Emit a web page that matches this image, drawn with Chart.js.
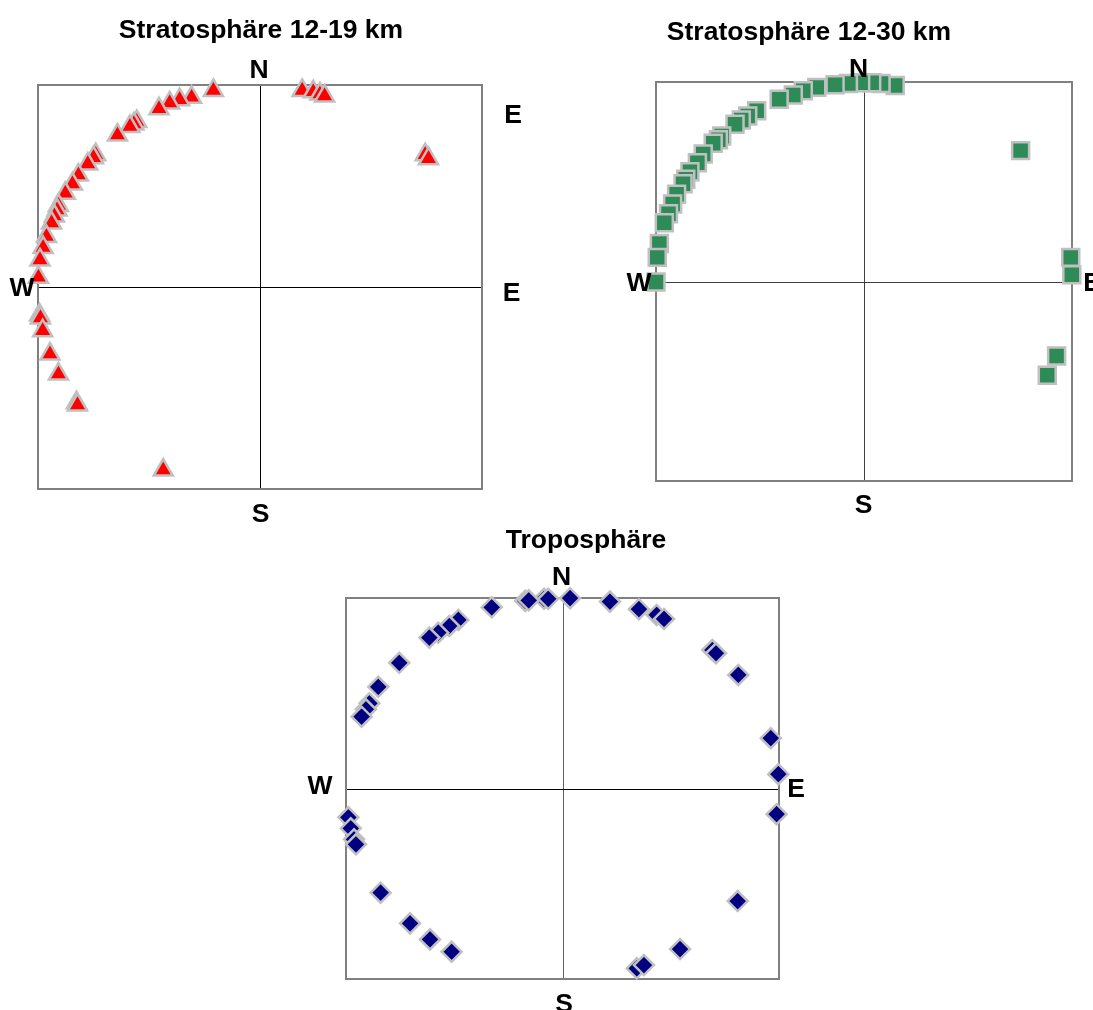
<!DOCTYPE html>
<html>
<head>
<meta charset="utf-8">
<script src="https://cdn.jsdelivr.net/npm/chart.js@4.4.1/dist/chart.umd.min.js"></script>
<style>
  html, body { margin: 0; padding: 0; background: #ffffff; }
  #wrap { position: relative; width: 1093px; height: 1010px; overflow: hidden; }
  #wrap canvas { position: absolute; left: 0; top: 0; }
</style>
</head>
<body>
<div id="wrap">
  <canvas id="c1" width="1093" height="1010"></canvas>
  <canvas id="c2" width="1093" height="1010"></canvas>
  <canvas id="c3" width="1093" height="1010"></canvas>
</div>
<script>
// Wind directions as unit vectors: x = east component, y = north component.

// Stratosphäre 12-19 km
const strat19X = [-0.210, -0.308, -0.362, -0.407, -0.455, -0.555, -0.568, -0.586, -0.642, -0.740,
                  -0.750, -0.776, -0.818, -0.845, -0.877, -0.908, -0.914, -0.926, -0.939, -0.962,
                  -0.977, -0.991, -0.998, -0.993, -0.989, -0.979, -0.946, -0.908, -0.827, -0.822,
                  -0.436, 0.190, 0.240, 0.270, 0.291, 0.744, 0.759];
const strat19Y = [0.973, 0.939, 0.927, 0.911, 0.882, 0.819, 0.807, 0.794, 0.752, 0.655,
                  0.640, 0.609, 0.554, 0.510, 0.464, 0.404, 0.381, 0.351, 0.317, 0.250,
                  0.195, 0.134, 0.048, -0.139, -0.153, -0.216, -0.332, -0.431, -0.573, -0.584,
                  -0.906, 0.973, 0.966, 0.955, 0.946, 0.655, 0.635];

// Stratosphäre 12-30 km
const strat30X = [0.150, 0.082, 0.037, -0.016, -0.075, -0.139, -0.227, -0.292, -0.340, -0.408,
                  -0.516, -0.559, -0.590, -0.620, -0.684, -0.700, -0.725, -0.773, -0.801, -0.837,
                  -0.857, -0.870, -0.901, -0.920, -0.940, -0.960, -0.984, -0.994, -1.000,
                  0.753, 0.994, 0.999, 0.926, 0.881];
const strat30Y = [0.983, 0.993, 0.996, 0.996, 0.993, 0.986, 0.973, 0.956, 0.935, 0.913,
                  0.856, 0.830, 0.810, 0.788, 0.729, 0.710, 0.693, 0.639, 0.595, 0.550,
                  0.512, 0.490, 0.437, 0.388, 0.340, 0.295, 0.191, 0.121, -0.003,
                  0.656, 0.121, 0.034, -0.373, -0.470];

// Troposphäre
const tropoX = [0.035, -0.085, -0.066, -0.172, -0.156, -0.327, -0.481, -0.523, -0.574, -0.615,
                -0.754, -0.851, -0.892, -0.908, -0.928, 0.219, 0.353, 0.435, 0.469, 0.692,
                0.709, 0.812, 0.962, 0.997, 0.989, -0.989, -0.978, -0.963, -0.954, -0.840,
                -0.704, -0.612, -0.512, 0.343, 0.376, 0.543, 0.809];
const tropoY = [0.999, 0.996, 0.996, 0.985, 0.988, 0.951, 0.885, 0.853, 0.818, 0.792,
                0.660, 0.534, 0.447, 0.416, 0.377, 0.981, 0.941, 0.911, 0.890, 0.727,
                0.710, 0.596, 0.264, 0.075, -0.135, -0.151, -0.209, -0.267, -0.293, -0.547,
                -0.708, -0.792, -0.857, -0.944, -0.927, -0.843, -0.591];

const titles = ['Stratosphäre 12-19 km', 'Stratosphäre 12-30 km', 'Troposphäre'];
const compassPoints = ['N', 'E', 'S', 'W'];

const FONT = 'bold 26.5px "Liberation Sans", Arial, sans-serif';
const CAP_HALF = 9.5;

// Frame, cross lines and text for one compass panel
const compassFrame = {
  id: 'compassFrame',
  beforeDatasetsDraw(chart, args, opts) {
    const { ctx, chartArea: a, scales: { x, y } } = chart;
    const x0 = Math.round(x.getPixelForValue(0)) + 0.5;
    const y0 = Math.round(y.getPixelForValue(0)) + 0.5;
    ctx.save();
    ctx.lineWidth = 1;
    ctx.strokeStyle = opts.vColor;
    ctx.beginPath(); ctx.moveTo(x0, a.top); ctx.lineTo(x0, a.bottom); ctx.stroke();
    ctx.strokeStyle = opts.hColor;
    ctx.beginPath(); ctx.moveTo(a.left, y0); ctx.lineTo(a.right, y0); ctx.stroke();
    ctx.lineWidth = 2;
    ctx.strokeStyle = '#808080';
    ctx.strokeRect(a.left, a.top, a.right - a.left, a.bottom - a.top);
    ctx.restore();
  },
  afterDraw(chart, args, opts) {
    const ctx = chart.ctx;
    ctx.save();
    ctx.font = FONT;
    ctx.fillStyle = '#000000';
    ctx.textAlign = 'center';
    ctx.textBaseline = 'alphabetic';
    (opts.labels || []).forEach(l => ctx.fillText(l.text, l.x, l.y + CAP_HALF));
    ctx.restore();
  }
};

function toPoints(xs, ys) {
  return xs.map((v, i) => ({ x: v, y: ys[i] }));
}

function compassChart(id, pts, marker, area, frame) {
  return new Chart(document.getElementById(id), {
    type: 'scatter',
    data: {
      datasets: [{
        data: pts,
        pointStyle: marker.style,
        pointRadius: marker.radius,
        pointHoverRadius: marker.radius,
        pointBackgroundColor: marker.color,
        pointBorderColor: '#C0C0C0',
        pointBorderWidth: marker.border,
        clip: false
      }]
    },
    options: {
      responsive: false,
      animation: false,
      events: [],
      layout: {
        padding: { left: area.left, top: area.top, right: 1093 - area.right, bottom: 1010 - area.bottom }
      },
      scales: {
        x: { type: 'linear', min: -1, max: 1, display: false },
        y: { type: 'linear', min: -1, max: 1, display: false }
      },
      plugins: {
        legend: { display: false },
        tooltip: { enabled: false },
        compassFrame: frame
      }
    },
    plugins: [compassFrame]
  });
}

const [N, E, S, W] = compassPoints;

compassChart('c1', toPoints(strat19X, strat19Y),
  { style: 'triangle', radius: 11, border: 2.5, color: '#FF0000' },
  { left: 38, top: 85, right: 482, bottom: 489 },
  { vColor: '#000000', hColor: '#000000', labels: [
    { text: titles[0], x: 261, y: 28 },
    { text: N, x: 259, y: 68 },
    { text: E, x: 513, y: 113 },
    { text: E, x: 511.5, y: 291 },
    { text: W, x: 22, y: 286 },
    { text: S, x: 260.5, y: 512 }
  ] });

compassChart('c2', toPoints(strat30X, strat30Y),
  { style: 'rect', radius: 12, border: 2.5, color: '#2E8B57' },
  { left: 656, top: 82, right: 1072, bottom: 481 },
  { vColor: '#404040', hColor: '#404040', labels: [
    { text: titles[1], x: 809, y: 30 },
    { text: N, x: 858.5, y: 67.5 },
    { text: W, x: 639, y: 281 },
    { text: E, x: 1092, y: 281 },
    { text: S, x: 863.5, y: 503 }
  ] });

compassChart('c3', toPoints(tropoX, tropoY),
  { style: 'rectRot', radius: 10, border: 2.5, color: '#000080' },
  { left: 346, top: 598, right: 779, bottom: 979 },
  { vColor: '#606060', hColor: '#000000', labels: [
    { text: titles[2], x: 586, y: 538 },
    { text: N, x: 561.5, y: 575.5 },
    { text: W, x: 320, y: 784 },
    { text: E, x: 796, y: 787 },
    { text: S, x: 564, y: 1002.5 }
  ] });
</script>
</body>
</html>
